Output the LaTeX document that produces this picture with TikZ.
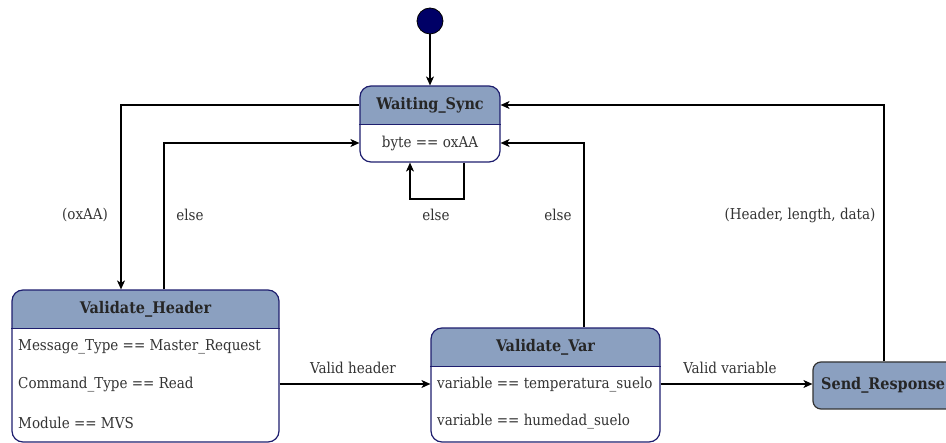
\documentclass[tikz,border=0pt]{standalone}
\usepackage{fontspec}
\setmainfont{DejaVu Serif Condensed}
\usetikzlibrary{arrows.meta,calc}
\definecolor{hdrblue}{RGB}{139,160,192}
\definecolor{navyline}{RGB}{30,30,110}
\definecolor{initfill}{RGB}{0,0,102}
\definecolor{darkedge}{RGB}{51,51,51}
\tikzset{
  arr/.style={draw=black, line width=1.2pt, -{Stealth[length=9pt,width=8pt,inset=2.5pt]}},
  statebox/.style={draw=navyline, line width=1.2pt, rounded corners=11pt, fill=white, inner sep=0pt,
    path picture={\fill[hdrblue, sharp corners] (path picture bounding box.north west) rectangle ([yshift=-39pt]path picture bounding box.north east);}},
  hdrtext/.style={font=\fontsize{16}{18}\selectfont\bfseries, text=black!85},
  bodytext/.style={font=\fontsize{15}{17}\selectfont, text=black!80, anchor=west, inner sep=0pt},
  lbl/.style={font=\fontsize{15}{17}\selectfont, text=black!80, inner sep=1pt},
}
\begin{document}
\begin{tikzpicture}[x=1pt,y=-1pt]
\useasboundingbox (0,0) rectangle (946,443);
\begin{scope}
\clip (0,0) rectangle (946,443);
% initial state
\node[circle, fill=initfill, draw=black, line width=0.8pt, minimum size=26pt, inner sep=0pt] (init) at (430,21) {};
% Waiting_Sync
\node[statebox, minimum width=140pt, minimum height=76pt] (ws) at (430,124) {};
\draw[navyline, line width=1.2pt] ([yshift=-39pt]ws.north west) -- ([yshift=-39pt]ws.north east);
\node[hdrtext] (wst) at (430,105.5) {Waiting\_Sync};
\node[lbl] (wsb) at (430,143.5) {byte == oxAA};
% Validate_Header
\node[statebox, minimum width=267pt, minimum height=152pt] (vh) at (145.5,366) {};
\draw[navyline, line width=1.2pt] ([yshift=-39pt]vh.north west) -- ([yshift=-39pt]vh.north east);
\node[hdrtext] (vht) at (145.5,309.5) {Validate\_Header};
\node[bodytext] (vh1) at (18,347) {Message\_Type == Master\_Request};
\node[bodytext] (vh2) at (18,385) {Command\_Type == Read};
\node[bodytext] (vh3) at (18,423) {Module == MVS};
% Validate_Var
\node[statebox, minimum width=229pt, minimum height=114pt] (vv) at (545.5,385) {};
\draw[navyline, line width=1.2pt] ([yshift=-39pt]vv.north west) -- ([yshift=-39pt]vv.north east);
\node[hdrtext] (vvt) at (545.5,347.5) {Validate\_Var};
\node[bodytext] (vv1) at (437,385) {variable == temperatura\_suelo};
\node[bodytext] (vv2) at (437,422) {variable == humedad\_suelo};
% Send_Response
\node[draw=darkedge, line width=1.2pt, rounded corners=8pt, fill=hdrblue, minimum width=160pt, minimum height=47pt, inner sep=0pt] (sr) at (893,385.5) {};
\node[hdrtext, anchor=west, inner sep=0pt] (srt) at (821,385.5) {Send\_Response};
% connectors
\draw[arr] (init) -- (ws);
\draw[arr] (ws.west |- 0,105) -- (121,105) -- (vh.north -| 121,0);
\draw[arr] (vh.north -| 164,0) -- (164,143) -- (ws.west |- 0,143);
\draw[arr] (ws.south -| 464,0) -- (464,199) -- (410,199) -- (ws.south -| 410,0);
\draw[arr] (vv.north -| 584,0) -- (584,143) -- (ws.east |- 0,143);
\draw[arr] (sr.north -| 884,0) -- (884,105) -- (ws.east |- 0,105);
\draw[arr] (vh.east |- 0,384) -- (vv.west |- 0,384);
\draw[arr] (vv.east |- 0,384) -- (sr.west |- 0,384);
% labels
\node[lbl] (l1) at (85,215) {(oxAA)};
\node[lbl] (l2) at (190,215) {else};
\node[lbl] (l3) at (436,215) {else};
\node[lbl] (l4) at (558,215) {else};
\node[lbl] (l5) at (800,215) {(Header, length, data)};
\node[lbl] (l6) at (353,368) {Valid header};
\node[lbl] (l7) at (730,368) {Valid variable};
\end{scope}
\end{tikzpicture}
\end{document}
